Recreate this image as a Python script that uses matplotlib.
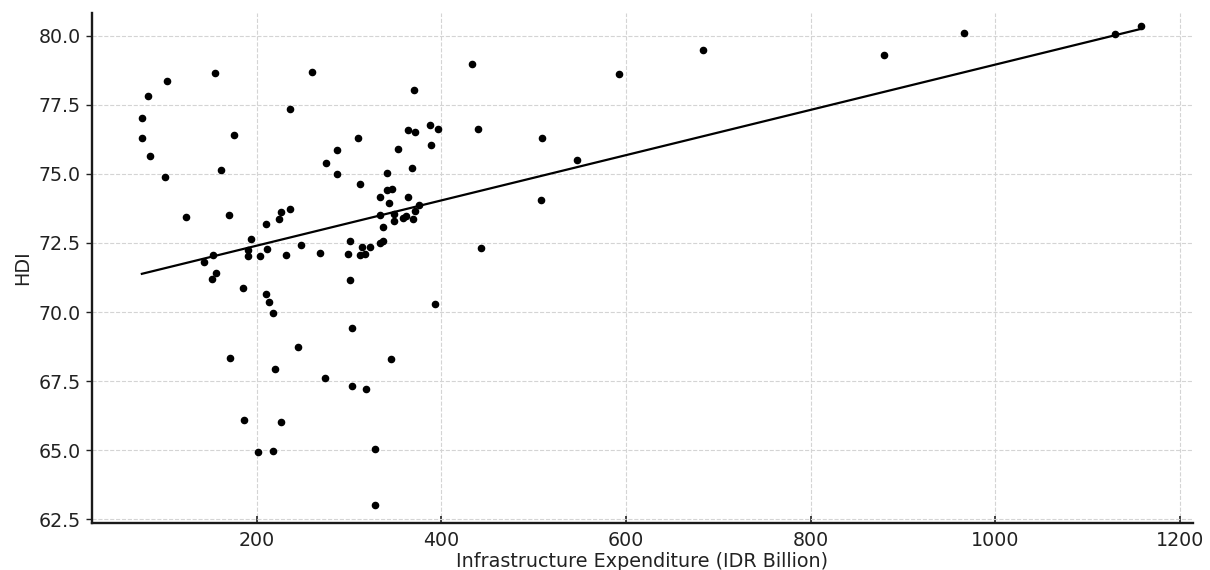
# HDI vs infrastructure expenditure, scatter with linear fit

import numpy as np
import matplotlib
matplotlib.use("Agg")
import matplotlib.pyplot as plt

# infrastructure expenditure (IDR billion)
expenditure = [
    75.7, 76.0, 82.2, 84.7, 102.4, 100.9, 123.4, 154.8, 175.7, 161.3,
    170.3, 142.5, 152.6, 155.5, 151.2, 190.9, 190.9, 194.2, 203.6, 210.4,
    210.7, 223.8, 226.7, 235.7, 235.7, 231.8, 248.0, 260.3, 268.3, 274.8,
    286.7, 287.4, 299.3, 301.5, 310.2, 311.6, 312.4, 314.5, 317.8, 323.2,
    334.0, 336.9, 334.0, 336.9, 334.0, 341.3, 341.0, 346.4, 343.5, 348.9,
    348.9, 353.5, 358.2, 362.2, 363.7, 363.7, 368.0, 370.9, 371.6, 369.8,
    371.6, 375.3, 388.2, 389.3, 396.9,
    185.1, 210.1, 213.0, 218.0, 301.1, 393.3, 171.1, 219.8, 244.8, 303.7,
    345.6, 274.0, 303.4, 318.8, 186.6, 226.0, 201.8, 217.7, 328.6, 328.6,
    433.1, 440.2, 508.9, 546.9, 507.5, 442.8, 592.4, 683.1,
    879.3, 966.0, 1129.7, 1157.5,
]

# human development index
hdi = [
    77.01, 76.29, 77.81, 75.66, 78.37, 74.87, 73.43, 78.65, 76.42, 75.15,
    73.52, 71.82, 72.08, 71.42, 71.18, 72.24, 72.02, 72.65, 72.02, 73.17,
    72.28, 73.37, 73.61, 73.73, 77.34, 72.08, 72.43, 78.69, 72.13, 75.40,
    75.88, 74.98, 72.10, 72.56, 76.31, 74.63, 72.08, 72.36, 72.10, 72.36,
    72.51, 72.56, 73.52, 73.07, 74.15, 75.04, 74.42, 74.45, 73.93, 73.54,
    73.29, 75.90, 73.40, 73.47, 76.60, 74.17, 75.21, 78.02, 76.51, 73.37,
    73.65, 73.86, 76.76, 76.03, 76.64,
    70.88, 70.64, 70.38, 69.96, 71.16, 70.29, 68.35, 67.95, 68.75, 69.44,
    68.29, 67.60, 67.34, 67.23, 66.11, 66.01, 64.95, 64.99, 65.05, 63.03,
    78.97, 76.64, 76.31, 75.51, 74.07, 72.33, 78.62, 79.48,
    79.31, 80.10, 80.07, 80.36,
]

x = np.array(expenditure)
y = np.array(hdi)

# linear regression
slope, intercept = np.polyfit(x, y, 1)
x_line = np.array([x.min(), x.max()])
y_line = slope * x_line + intercept

fig = plt.figure(figsize=(12.1, 5.7), dpi=100)
ax = fig.add_axes([92 / 1210, 47 / 570, 1101 / 1210, 510 / 570])

ax.scatter(x, y, s=20, color='black', zorder=3)
ax.plot(x_line, y_line, color='black', linewidth=1.6, zorder=2)

ax.set_xlim(21.7, 1214)
ax.set_ylim(62.37, 80.82)
ax.set_xticks([200, 400, 600, 800, 1000, 1200])
ax.set_yticks([62.5, 65.0, 67.5, 70.0, 72.5, 75.0, 77.5, 80.0])
ax.set_yticklabels(['62.5', '65.0', '67.5', '70.0', '72.5', '75.0', '77.5', '80.0'])

ax.grid(True, linestyle='--', color='#d4d4d4', linewidth=0.8)
ax.set_axisbelow(True)

for side in ['top', 'right']:
    ax.spines[side].set_visible(False)
for side in ['left', 'bottom']:
    ax.spines[side].set_linewidth(1.7)
    ax.spines[side].set_color('#1a1a1a')

ax.tick_params(axis='x', direction='in', length=5, width=1.2, labelsize=13.7,
               colors='#222222', pad=6)
ax.tick_params(axis='y', direction='out', length=4, width=1.0, labelsize=13.7,
               colors='#222222', pad=4)

ax.set_xlabel('Infrastructure Expenditure (IDR Billion)', fontsize=13.8,
              color='#222222', labelpad=1)
ax.set_ylabel('HDI', fontsize=13.8, color='#222222', labelpad=5)

fig.savefig('out.png', dpi=100)
